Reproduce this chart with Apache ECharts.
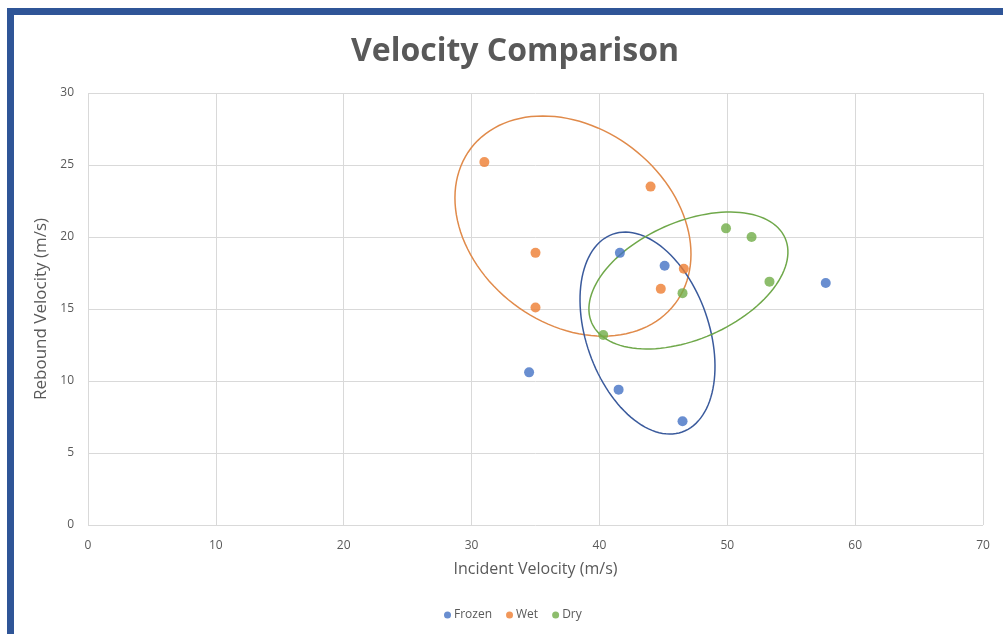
<!DOCTYPE html>
<html>
<head>
<meta charset="utf-8">
<script src="https://cdn.jsdelivr.net/npm/echarts@6/dist/echarts.min.js"></script>
<style>
html,body{margin:0;padding:0;background:#fff;}
#wrap{position:relative;width:1003px;height:634px;overflow:hidden;background:#fff;}
#frame{position:absolute;left:7px;top:8px;width:1010px;height:640px;border-left:7px solid #2F5597;border-top:7px solid #2F5597;box-sizing:border-box;}
#chart{position:absolute;left:0;top:0;width:1003px;height:634px;}
</style>
</head>
<body>
<div id="wrap"><div id="frame"></div><div id="chart"></div></div>
<script>
// Data: [incident velocity, rebound velocity]
const frozen = [[34.5,10.6],[41.6,18.9],[45.1,18.0],[41.5,9.4],[46.5,7.2],[57.7,16.8]];
const wet = [[31.0,25.2],[35.0,18.9],[35.0,15.1],[44.0,23.5],[46.6,17.8],[44.8,16.4]];
const dry = [[40.3,13.2],[46.5,16.1],[49.9,20.6],[51.9,20.0],[53.3,16.9]];
const seriesNames = ['Frozen','Wet','Dry'];
const xTicks = [0,10,20,30,40,50,60,70];
const yTicks = [0,5,10,15,20,25,30];
// Hand-drawn group ellipses (data units): [centerX, centerY, axis1X, axis1Y, axis2X, axis2Y]
const wetEllipse = [37.93,20.76, 7.98,-5.40, -4.64,-5.41];
const frozenEllipse = [43.76,13.33, 2.71,-6.87, -4.53,-1.41];
const dryEllipse = [46.96,16.98, 7.56,2.95, 1.85,-3.73];

const colors = ['#4472C4','#ED7D31','#70AD47'];
const ellipseColors = ['#3A5A9C','#E08A4A','#6FA84A'];

function ellipseSeries(params, color){
  return {
    type:'custom', silent:true, z:1,
    data:[params],
    renderItem:function(p, api){
      const c = api.coord([api.value(0), api.value(1)]);
      const o = api.coord([0,0]);
      const ux = api.coord([api.value(2),0])[0]-o[0], uy = api.coord([0,api.value(3)])[1]-o[1];
      const vx = api.coord([api.value(4),0])[0]-o[0], vy = api.coord([0,api.value(5)])[1]-o[1];
      const pts = [];
      for(let i=0;i<=120;i++){
        const t = i/120*Math.PI*2;
        pts.push([c[0]+ux*Math.cos(t)+vx*Math.sin(t), c[1]+uy*Math.cos(t)+vy*Math.sin(t)]);
      }
      return {type:'polygon', shape:{points:pts}, style:{fill:'none', stroke:color, lineWidth:1.5}};
    },
    encode:{x:0,y:1},
    tooltip:{show:false}
  };
}

const chart = echarts.init(document.getElementById('chart'));
const font = 'Open Sans, Noto Sans, sans-serif';
chart.setOption({
  animation:false,
  backgroundColor:'transparent',
  title:{text:'Velocity Comparison', left:510, textAlign:'center', top:31,
    textStyle:{fontFamily:'Open Sans', fontWeight:'bold', fontSize:32, color:'#595959'}},
  legend:{bottom:8, left:439, itemWidth:7, itemHeight:7, itemGap:14,
    data:seriesNames.map(n=>({name:n, icon:'circle'})),
    textStyle:{fontFamily:font, fontSize:12, color:'#595959', padding:[0,0,0,-2]}},
  grid:{left:88, right:20, top:93, bottom:109, containLabel:false},
  xAxis:{type:'value', min:xTicks[0], max:xTicks[xTicks.length-1], interval:10,
    name:'Incident Velocity (m/s)', nameLocation:'middle', nameGap:36,
    nameTextStyle:{fontFamily:font, fontSize:16, color:'#595959'},
    axisLine:{show:false}, axisTick:{show:false},
    axisLabel:{fontFamily:font, fontSize:12, color:'#595959', margin:15},
    splitLine:{show:true, lineStyle:{color:'#D9D9D9', width:1}}},
  yAxis:{type:'value', min:yTicks[0], max:yTicks[yTicks.length-1], interval:5,
    name:'Rebound Velocity (m/s)', nameLocation:'middle', nameGap:34,
    nameTextStyle:{fontFamily:font, fontSize:17, color:'#595959'},
    axisLine:{show:false}, axisTick:{show:false},
    axisLabel:{fontFamily:font, fontSize:12, color:'#595959', margin:14},
    splitLine:{show:true, lineStyle:{color:'#D9D9D9', width:1}}},
  series:[
    {name:seriesNames[0], type:'scatter', data:frozen, symbolSize:10, itemStyle:{color:colors[0]}, z:3},
    {name:seriesNames[1], type:'scatter', data:wet, symbolSize:10, itemStyle:{color:colors[1]}, z:3},
    {name:seriesNames[2], type:'scatter', data:dry, symbolSize:10, itemStyle:{color:colors[2]}, z:3},
    ellipseSeries(wetEllipse, ellipseColors[1]),
    ellipseSeries(frozenEllipse, ellipseColors[0]),
    ellipseSeries(dryEllipse, ellipseColors[2])
  ]
});
</script>
</body>
</html>
